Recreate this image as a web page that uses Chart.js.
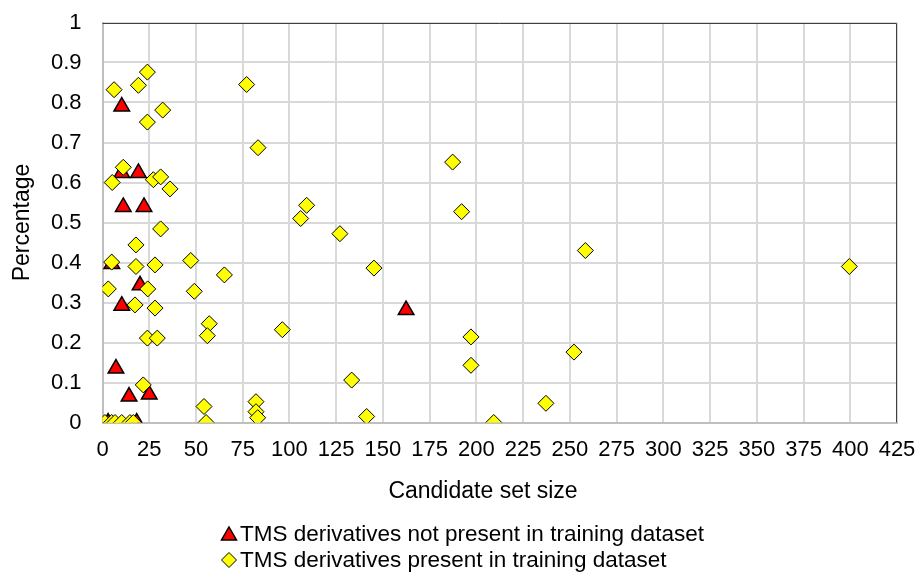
<!DOCTYPE html>
<html>
<head>
<meta charset="utf-8">
<script src="https://cdn.jsdelivr.net/npm/chart.js@4/dist/chart.umd.min.js"></script>
<style>
  html, body { margin: 0; padding: 0; background: #fff; }
  #wrap { width: 919px; height: 572px; position: relative; }
</style>
</head>
<body>
<div id="wrap"><canvas id="grafico"></canvas></div>
<script>
// TMS derivatives NOT present in training dataset (red triangles)
const ausenteX = [10.3, 10.3, 19.2, 11.1, 22.2, 5.0, 20.1, 10.3, 7.2, 14.2, 25.0, 162.4, 3.0, 18.3];
const ausenteY = [0.79, 0.624, 0.624, 0.539, 0.539, 0.396, 0.343, 0.292, 0.135, 0.065, 0.07, 0.281, 0, 0];

// TMS derivatives present in training dataset (yellow diamonds)
const presenteX = [
  24.0, 6.2, 19.2, 32.2, 24.0, 11.1, 5.2, 27.2, 31.1, 36.1, 31.1, 17.9, 4.9, 17.9, 28.1, 47.2,
  24.2, 3.1, 49.1, 17.4, 28.1, 24.0, 29.3, 21.8, 1.3, 4.9, 6.7, 10.3, 14.7, 16.5,
  77.1, 83.2, 109.2, 106.0, 65.2, 57.1, 56.1, 96.2, 54.3, 55.4, 82.1, 82.1, 83.0,
  127.0, 145.2, 133.3, 141.3,
  187.3, 192.1, 258.3, 197.1, 252.2, 197.1, 237.2, 209.3, 399.5
];
const presenteY = [
  0.876, 0.832, 0.843, 0.781, 0.751, 0.638, 0.600, 0.607, 0.614, 0.584, 0.484, 0.444, 0.401, 0.390, 0.394, 0.405,
  0.334, 0.334, 0.328, 0.294, 0.286, 0.211, 0.211, 0.094, 0, 0, 0, 0, 0, 0,
  0.845, 0.687, 0.543, 0.510, 0.369, 0.247, 0.217, 0.232, 0.040, 0.0, 0.052, 0.027, 0.012,
  0.472, 0.386, 0.106, 0.015,
  0.651, 0.527, 0.430, 0.214, 0.176, 0.143, 0.048, 0.0, 0.39
];

const nomesSeries = [
  'TMS derivatives not present in training dataset',
  'TMS derivatives present in training dataset'
];
const tituloX = 'Candidate set size';
const tituloY = 'Percentage';

const fonte = '"Liberation Sans", Arial, sans-serif';

function pontos(xs, ys) {
  return xs.map((x, i) => ({ x: x, y: ys[i] }));
}

// desenha eixo X, bordas e legenda
const extras = {
  id: 'extras',
  afterDraw(chart) {
    const c = chart.ctx;
    const a = chart.chartArea;
    c.save();
    c.strokeStyle = '#404040';
    c.lineWidth = 1;
    c.beginPath();
    c.moveTo(a.left, Math.round(a.top) + 0.5);
    c.lineTo(Math.round(a.right) - 0.5, Math.round(a.top) + 0.5);
    c.lineTo(Math.round(a.right) - 0.5, a.bottom);
    c.stroke();

    c.fillStyle = '#000';
    c.font = '23px ' + fonte;
    c.textAlign = 'center';
    c.textBaseline = 'alphabetic';
    c.fillText(tituloX, 483, 498);

    // legenda
    c.font = '22.5px ' + fonte;
    c.textAlign = 'left';
    c.lineWidth = 1.5;
    c.strokeStyle = '#000';
    // triângulo
    c.fillStyle = '#ff0000';
    c.beginPath();
    c.moveTo(229, 527);
    c.lineTo(236.5, 540);
    c.lineTo(221.5, 540);
    c.closePath();
    c.fill();
    c.stroke();
    // losango
    c.lineWidth = 1;
    c.fillStyle = '#ffff00';
    c.beginPath();
    c.moveTo(229, 552.5);
    c.lineTo(236.5, 560);
    c.lineTo(229, 567.5);
    c.lineTo(221.5, 560);
    c.closePath();
    c.fill();
    c.stroke();

    c.fillStyle = '#000';
    c.fillText(nomesSeries[0], 240, 541);
    c.fillText(nomesSeries[1], 240, 567);
    c.restore();
  }
};

const ctx = document.getElementById('grafico').getContext('2d');

const grafico = new Chart(ctx, {
  type: 'scatter',
  data: {
    datasets: [
      {
        label: nomesSeries[0],
        data: pontos(ausenteX, ausenteY),
        pointStyle: 'triangle',
        pointRadius: 9,
        backgroundColor: '#ff0000',
        borderColor: '#000',
        borderWidth: 1.5,
        order: 1
      },
      {
        label: nomesSeries[1],
        data: pontos(presenteX, presenteY),
        pointStyle: 'rectRot',
        pointRadius: 8,
        backgroundColor: '#ffff00',
        borderColor: '#000',
        borderWidth: 1,
        order: 0
      }
    ]
  },
  options: {
    responsive: true,
    maintainAspectRatio: false,
    animation: false,
    layout: { autoPadding: false, padding: { left: 0, right: 22, top: 22.5, bottom: 89.5 } },
    plugins: {
      legend: { display: false },
      tooltip: { enabled: false }
    },
    scales: {
      x: {
        type: 'linear',
        min: 0,
        max: 425,
        ticks: {
          stepSize: 25,
          padding: 0,
          color: '#000',
          font: { family: fonte, size: 22 }
        },
        grid: { color: '#d9d9d9', lineWidth: 2, drawTicks: true, tickLength: 14, tickColor: 'rgba(0,0,0,0)' },
        border: { color: '#bfbfbf', width: 2 },
        afterFit(scale) { scale.height = 60; }
      },
      y: {
        type: 'linear',
        min: 0,
        max: 1,
        ticks: {
          stepSize: 0.1,
          padding: 0,
          color: '#000',
          font: { family: fonte, size: 22 },
          callback: v => String(Math.round(v * 10) / 10)
        },
        grid: { color: '#d9d9d9', lineWidth: 2, drawTicks: true, tickLength: 21, tickColor: 'rgba(0,0,0,0)' },
        border: { color: '#bfbfbf', width: 2 },
        title: {
          display: true,
          text: tituloY,
          color: '#000',
          font: { family: fonte, size: 23 },
          padding: { top: 9, bottom: 0 }
        },
        afterFit(scale) { scale.width = 102.5; }
      }
    }
  },
  plugins: [extras]
});
</script>
</body>
</html>
